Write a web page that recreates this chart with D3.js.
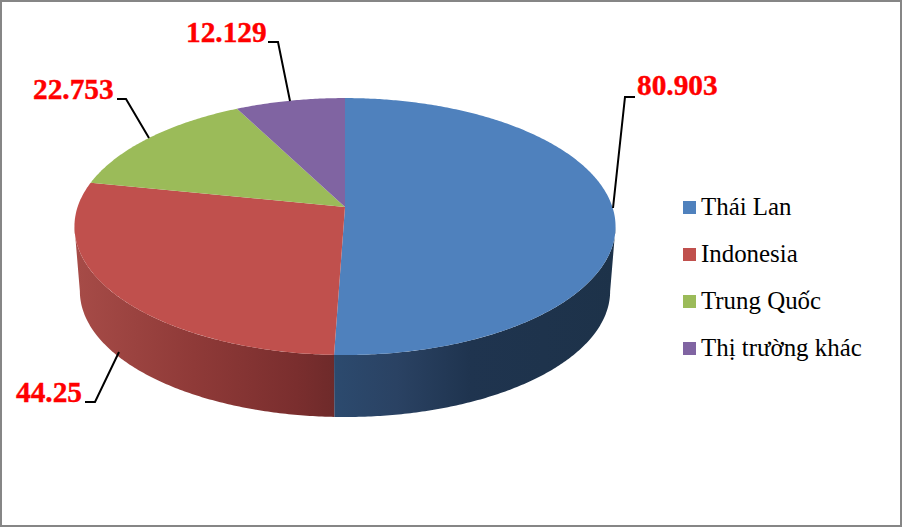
<!DOCTYPE html>
<html>
<head>
<meta charset="utf-8">
<script src="https://cdn.jsdelivr.net/npm/d3@7/dist/d3.min.js"></script>
<style>
html,body{margin:0;padding:0;background:#fff;overflow:hidden}
svg{display:block}
text{font-family:"Liberation Serif",serif}
</style>
</head>
<body>
<svg id="chart" width="902" height="527"></svg>
<script>
const categories = ["Thái Lan", "Indonesia", "Trung Quốc", "Thị trường khác"];
const values = [80.903, 44.25, 22.753, 12.129];
const topColors = ["#4f81bd", "#c0504d", "#9bbb59", "#8064a2"];

const W = 902, H = 527;
const svg = d3.select("#chart");
svg.append("rect").attr("x",1).attr("y",1).attr("width",W-2).attr("height",H-2)
  .attr("fill","#fff").attr("stroke","#868686").attr("stroke-width",2);

// perspective of the pie disc
const cx = 345, cy = 207, A = 267.4, B = 125.5, k = 0.152;
const wallCy = 272, wallScale = 0.98;
const top3 = a => { const u=Math.sin(a), v=Math.cos(a), d=1+k*v;
  return [cx + A*u/d, cy - B*v/d]; };
const bottom3 = a => { const u=Math.sin(a), v=Math.cos(a), d=1+k*v;
  return [cx + wallScale*A*u/d, wallCy - wallScale*B*v/d]; };

const pie = d3.pie().sort(null).value(d=>d)(values);
const line = d3.line();
const samples = (a0,a1) => { const n = Math.max(2, Math.ceil((a1-a0)/0.01));
  return d3.range(n+1).map(i => a0 + (a1-a0)*i/n); };

// side wall shading
const defs = svg.append("defs");
const addGrad = (id, x1, x2, stops) => {
  const g = defs.append("linearGradient").attr("id",id)
    .attr("gradientUnits","userSpaceOnUse").attr("x1",x1).attr("x2",x2).attr("y1",0).attr("y2",0);
  stops.forEach(s => g.append("stop").attr("offset",s[0]).attr("stop-color",s[1]));
};
addGrad("wallBlue", 335, 616, [[0,"#2c4a6e"],[0.22,"#2a4263"],[0.48,"#1f344f"],[1,"#1d3249"]]);
addGrad("wallRed", 78, 335, [[0,"#a64b47"],[0.45,"#8f3a38"],[0.85,"#7a2e2e"],[1,"#6e2a2a"]]);

const tangent = Math.PI - Math.acos(k);   // right silhouette angle
const walls = [
  {a0: tangent, a1: pie[0].endAngle, fill: "url(#wallBlue)"},
  {a0: pie[0].endAngle, a1: 2*Math.PI - tangent, fill: "url(#wallRed)"}
];
svg.append("g").selectAll("path").data(walls).join("path")
  .attr("d", d => { const s = samples(d.a0,d.a1);
    return line(s.map(top3).concat(s.slice().reverse().map(bottom3))) + "Z"; })
  .attr("fill", d=>d.fill);

// top face
svg.append("g").selectAll("path").data(pie).join("path")
  .attr("d", d => line([[cx,cy]].concat(samples(d.startAngle,d.endAngle).map(top3))) + "Z")
  .attr("fill", (d,i)=>topColors[i]);

// leaders + labels
const leaderPaths = [
  [[613,208],[625,97],[635,97]],
  [[119,352],[95,402],[85,402]],
  [[149,138],[126,99],[117,99]],
  [[290,101],[278,42],[268,42]]
];
const labelAt = [[637,95],[16,402],[33,99],[186,42]];
svg.append("g").selectAll("path").data(leaderPaths).join("path")
  .attr("d", d=>line(d)).attr("fill","none").attr("stroke","#000").attr("stroke-width",2);
svg.append("g").selectAll("text").data(values).join("text")
  .attr("x",(d,i)=>labelAt[i][0]).attr("y",(d,i)=>labelAt[i][1])
  .attr("fill","#ff0000").attr("stroke","#ff0000").attr("stroke-width",0.4)
  .attr("font-weight","bold").attr("font-size",29.33)
  .text(d=>String(d));

// legend
const legendY = d3.scalePoint().domain(categories).range([215,356]);
const lg = svg.append("g").selectAll("g").data(categories).join("g");
lg.append("rect").attr("x",683).attr("y",d=>legendY(d)-14).attr("width",13).attr("height",13)
  .attr("fill",(d,i)=>topColors[i]);
lg.append("text").attr("x",701).attr("y",d=>legendY(d))
  .attr("font-size",24.9).attr("fill","#000").text(d=>d);
</script>
</body>
</html>
